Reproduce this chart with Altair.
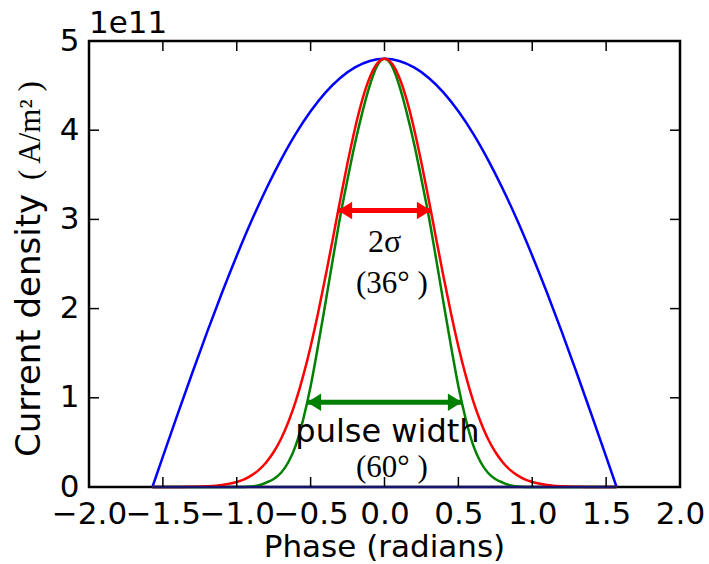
import altair as alt
import pandas as pd

SANS = "DejaVu Sans"
SERIF = "Liberation Serif"

# Phase grid (radians) and current density (in units of 1e11 A/m^2)
phase_cos = [-1.5708, -1.5, -1.4, -1.3, -1.2, -1.1, -1.0, -0.9, -0.8, -0.7, -0.6, -0.5,
             -0.4, -0.3, -0.2, -0.1, 0.0, 0.1, 0.2, 0.3, 0.4, 0.5, 0.6, 0.7, 0.8, 0.9,
             1.0, 1.1, 1.2, 1.3, 1.4, 1.5, 1.5708]
density_cos = [0.0, 0.340, 0.816, 1.284, 1.739, 2.177, 2.593, 2.984, 3.344, 3.671, 3.962, 4.212,
               4.421, 4.586, 4.704, 4.776, 4.800, 4.776, 4.704, 4.586, 4.421, 4.212, 3.962, 3.671,
               3.344, 2.984, 2.593, 2.177, 1.739, 1.284, 0.816, 0.340, 0.0]

phase_pulse = [-1.5708, -1.5, -1.4, -1.3, -1.2, -1.1,
               -1.0, -0.95, -0.9, -0.85, -0.8, -0.75, -0.7, -0.65, -0.6, -0.55, -0.5,
               -0.45, -0.4, -0.35, -0.3, -0.25, -0.2, -0.15, -0.1, -0.05, 0.0,
               0.05, 0.1, 0.15, 0.2, 0.25, 0.3, 0.35, 0.4, 0.45, 0.5,
               0.55, 0.6, 0.65, 0.7, 0.75, 0.8, 0.85, 0.9, 0.95, 1.0,
               1.1, 1.2, 1.3, 1.4, 1.5, 1.5708]
density_gauss = [0.000, 0.000, 0.001, 0.003, 0.008, 0.022,
                 0.056, 0.086, 0.130, 0.192, 0.278, 0.392, 0.541, 0.731, 0.965, 1.248, 1.576,
                 1.947, 2.353, 2.781, 3.215, 3.634, 4.017, 4.342, 4.591, 4.747, 4.800,
                 4.747, 4.591, 4.342, 4.017, 3.634, 3.215, 2.781, 2.353, 1.947, 1.576,
                 1.248, 0.965, 0.731, 0.541, 0.392, 0.278, 0.192, 0.130, 0.086, 0.056,
                 0.022, 0.008, 0.003, 0.001, 0.000, 0.000]
density_pulse = [0.0, 0.0, 0.0, 0.0, 0.0, 0.0,
                 0.0, 0.0, 0.005, 0.02, 0.05, 0.09, 0.16, 0.28, 0.47, 0.76, 1.13,
                 1.58, 2.06, 2.55, 3.03, 3.45, 3.85, 4.20, 4.50, 4.72, 4.80,
                 4.72, 4.50, 4.20, 3.85, 3.45, 3.03, 2.55, 2.06, 1.58, 1.13,
                 0.76, 0.47, 0.28, 0.16, 0.09, 0.05, 0.02, 0.005, 0.0, 0.0,
                 0.0, 0.0, 0.0, 0.0, 0.0, 0.0]

baseline_phase = [-1.5708, 1.5708]
baseline_density = [0.0, 0.0]

x_ticks = [-2.0, -1.5, -1.0, -0.5, 0.0, 0.5, 1.0, 1.5, 2.0]
y_ticks = [0, 1, 2, 3, 4, 5]

# Width markers: 2 sigma (36 deg) and pulse width (60 deg)
sigma_span = [-0.314, 0.314]
sigma_level = 3.1
pulse_span = [-0.5236, 0.5236]
pulse_level = 0.95

W, H = 591, 446
TICK_FONT = 31

x_scale = alt.Scale(domain=[-2, 2], nice=False, zero=False)
y_scale = alt.Scale(domain=[0, 5], nice=False, zero=False)
x_axis = alt.Axis(values=x_ticks, format=".1f", title=None, grid=False, domain=False,
                  ticks=False, tickSize=0, labelPadding=36, labelBaseline="alphabetic",
                  labelFlush=False, labelOverlap=False, labelFont=SANS, labelFontSize=TICK_FONT,
                  labelColor="black")
y_axis = alt.Axis(values=y_ticks, format="d", title=None, grid=False, domain=False,
                  ticks=False, tickSize=0, labelPadding=10, labelFlush=False,
                  labelOverlap=False, labelFont=SANS, labelFontSize=TICK_FONT, labelColor="black")


def X(field="x"):
    return alt.X(f"{field}:Q", scale=x_scale, axis=x_axis)


def Y(field="y"):
    return alt.Y(f"{field}:Q", scale=y_scale, axis=y_axis)


def curve(xs, ys, color, width=2.5):
    df = pd.DataFrame({"x": xs, "y": ys})
    return alt.Chart(df).mark_line(color=color, strokeWidth=width,
                                   interpolate="monotone").encode(x=X(), y=Y())


blue = curve(phase_cos, density_cos, "#0000ff")
green = curve(phase_pulse, density_pulse, "#008000")
red = curve(phase_pulse, density_gauss, "#ff0000")
base = curve(baseline_phase, baseline_density, "#15156e", 2.5)

# inward ticks on all four sides
xt = pd.DataFrame({"x": x_ticks})
yt = pd.DataFrame({"y": y_ticks})
tick_style = dict(color="black", strokeWidth=1.5)
ticks_bottom = alt.Chart(xt).mark_rule(**tick_style).encode(x=X(), y=alt.value(H), y2=alt.value(H - 10))
ticks_top = alt.Chart(xt).mark_rule(**tick_style).encode(x=X(), y=alt.value(0), y2=alt.value(10))
ticks_left = alt.Chart(yt).mark_rule(**tick_style).encode(y=Y(), x=alt.value(0), x2=alt.value(10))
ticks_right = alt.Chart(yt).mark_rule(**tick_style).encode(y=Y(), x=alt.value(W), x2=alt.value(W - 10))

HEAD_RIGHT = "M0,0 L-1,-0.62 L-1,0.62 Z"
HEAD_LEFT = "M0,0 L1,-0.62 L1,0.62 Z"


def double_arrow(span, level, color):
    shaft_df = pd.DataFrame({"x": [span[0]], "x2": [span[1]], "y": [level]})
    shaft = alt.Chart(shaft_df).mark_rule(color=color, strokeWidth=5).encode(
        x=X(), x2="x2:Q", y=Y())
    left_df = pd.DataFrame({"x": [span[0]], "y": [level]})
    right_df = pd.DataFrame({"x": [span[1]], "y": [level]})
    head_l = alt.Chart(left_df).mark_point(shape=HEAD_LEFT, filled=True, size=784,
                                           color=color, opacity=1, strokeWidth=0).encode(x=X(), y=Y())
    head_r = alt.Chart(right_df).mark_point(shape=HEAD_RIGHT, filled=True, size=784,
                                            color=color, opacity=1, strokeWidth=0).encode(x=X(), y=Y())
    return shaft + head_l + head_r


sigma_arrow = double_arrow(sigma_span, sigma_level, "#ff0000")
pulse_arrow = double_arrow(pulse_span, pulse_level, "#008000")


def label(x, y, text, font, size):
    df = pd.DataFrame({"x": [x], "y": [y], "t": [text]})
    return alt.Chart(df).mark_text(font=font, fontSize=size, align="center",
                                   baseline="alphabetic", color="black").encode(
        x=X(), y=Y(), text="t:N")


lbl_sigma = label(0.0, 2.64, "2σ", SERIF, 32)
lbl_36 = label(0.05, 2.17, "(36° )", SERIF, 31)
lbl_pulse = label(0.02, 0.51, "pulse width", SANS, 32)
lbl_60 = label(0.05, 0.11, "(60° )", SERIF, 31)


def pixel_text(text, x, y, font, size, angle=0, align="left"):
    df = pd.DataFrame({"t": [text]})
    return alt.Chart(df).mark_text(font=font, fontSize=size, align=align, angle=angle,
                                   baseline="alphabetic", color="black").encode(
        x=alt.value(x), y=alt.value(y), text="t:N")


offset_text = pixel_text("1e11", 0, -8, SANS, 31)
x_title = pixel_text("Phase (radians)", W / 2, 516, SANS, 31, align="center")
y_title_a = pixel_text("Current density", -49, 416, SANS, 34, angle=270)
y_title_b = pixel_text("( A/m² )", -49, 139, SERIF, 31, angle=270)

chart = alt.layer(
    blue, green, red, base,
    ticks_bottom, ticks_top, ticks_left, ticks_right,
    sigma_arrow, pulse_arrow,
    lbl_sigma, lbl_36, lbl_pulse, lbl_60,
    offset_text, x_title, y_title_a, y_title_b,
).properties(
    width=W, height=H,
    padding={"left": 89, "top": 41, "right": 29, "bottom": 77},
    autosize=alt.AutoSizeParams(type="none"),
).configure_view(stroke="black", strokeWidth=2.5)

chart.save("out.html", embed_options={"renderer": "svg", "actions": False})
